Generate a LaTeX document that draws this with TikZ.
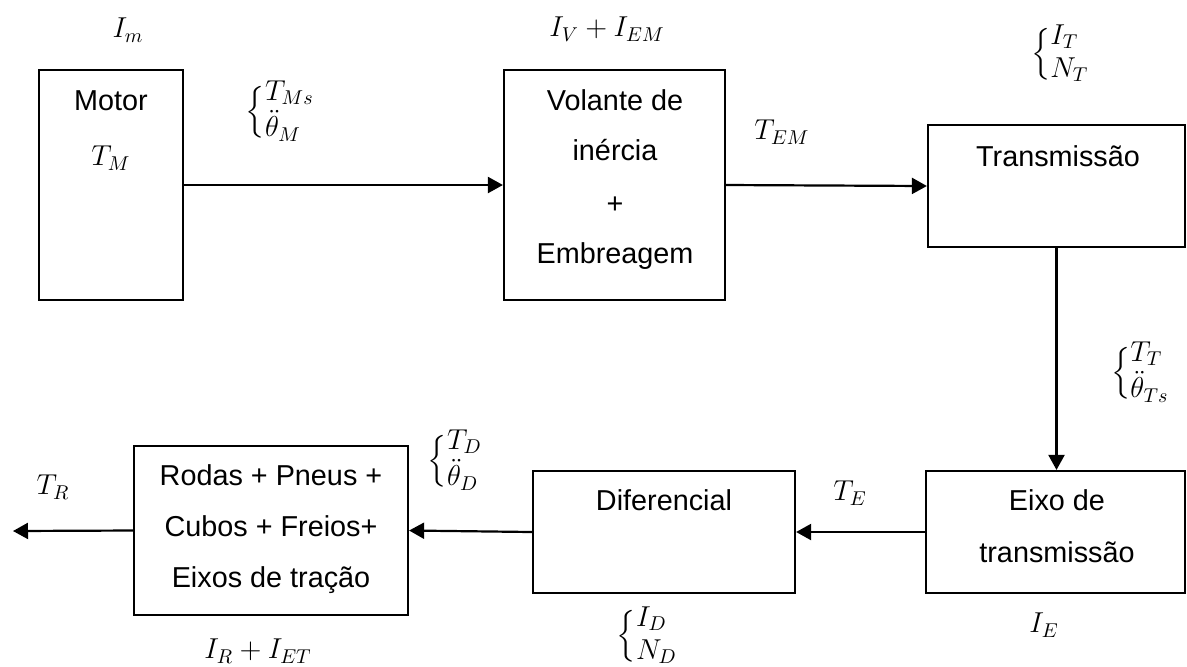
\documentclass[tikz,border=0pt]{standalone}
\usepackage{amsmath}
\usepackage{fontspec}
\setmainfont{Liberation Sans}
\usetikzlibrary{arrows.meta, positioning, calc}
\newcommand{\brc}[2]{$\delimiterfactor=700 \delimitershortfall=14pt \left\{\begin{array}{@{}l@{}}#1\\#2\end{array}\right.$}

\begin{document}
\begin{tikzpicture}[
    x=0.5pt, y=-0.5pt,
    blk/.style={draw, line width=1.1pt, inner sep=0pt},
    txt/.style={font=\fontsize{14.4}{17.28}\selectfont, inner sep=0pt, text height=10pt, text depth=0pt},
    lbl/.style={font=\fontsize{14.4}{16.5}\selectfont, inner sep=0pt},
    flow/.style={-{Triangle[length=7.5pt, width=8pt]}, line width=1.1pt},
]
\useasboundingbox (0,0) rectangle (1187,666);

% Blocks
\foreach \name/\cx/\cy/\w/\h in {
    motor/111/185/72/115,
    volante/614.5/185/110.5/115,
    transm/1056.5/186/128.5/61,
    eixo/1055.5/532/129.5/61,
    difer/664/532/131/61,
    rodas/271/530.5/137/84.5
} {
    \node[blk, minimum width=\w pt, minimum height=\h pt] (\name) at (\cx, \cy) {};
}

% Text inside the blocks
\foreach \x/\y/\words [count=\k] in {
    111/100/Motor,
    615/100/Volante de,
    615/150/inércia,
    615/203/+,
    615/253/Embreagem,
    1058/156/Transmissão,
    664/500/Diferencial,
    1057/500/Eixo de,
    1057/552/transmissão,
    271/475/Rodas + Pneus +,
    271/526/Cubos + Freios+,
    271/577/Eixos de tração
} {
    \node[txt] (line\k) at (\x, \y) {\words};
}

% Inertias, torques and accelerations
\node[lbl] (Im) at (128, 30) {$I_m$};
\node[lbl] (TM) at (111, 158) {$T_M$};
\node[lbl] (TMs) at (281, 112) {\brc{T_{Ms}}{\ddot{\theta}_M}};
\node[lbl] (IV) at (607, 29) {$I_V + I_{EM}$};
\node[lbl] (TEM) at (782, 132) {$T_{EM}$};
\node[lbl] (IT) at (1061, 54) {\brc{I_T}{N_T}};
\node[lbl] (TT) at (1141, 373) {\brc{T_T}{\ddot{\theta}_{Ts}}};
\node[lbl] (TE) at (850, 493) {$T_E$};
\node[lbl] (IE) at (1044, 625) {$I_E$};
\node[lbl] (ID) at (648, 636) {\brc{I_D}{N_D}};
\node[lbl] (TD) at (456, 461) {\brc{T_D}{\ddot{\theta}_D}};
\node[lbl] (TR) at (53, 487) {$T_R$};
\node[lbl] (IR) at (258, 651) {$I_R + I_{ET}$};

% Connectors
\coordinate (out) at (13, 531);
\draw[flow] (motor.east) -- (volante.west);
\draw[flow] (volante.east) -- (transm.west);
\draw[flow] (transm.south) -- (transm.south |- eixo.north);
\draw[flow] (eixo.west) -- (difer.east);
\draw[flow] (difer.west) -- (rodas.east);
\draw[flow] (rodas.west) -- (out);
\end{tikzpicture}
\end{document}
